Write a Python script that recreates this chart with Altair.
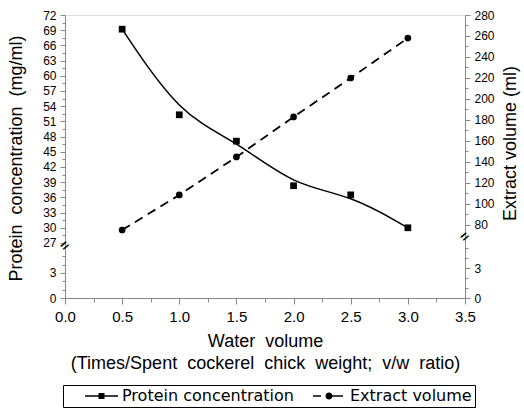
import altair as alt
import pandas as pd

# ---- data ----
water = [0.5, 1.0, 1.5, 2.0, 2.5, 3.0]
protein = [69.2, 52.3, 47.1, 38.3, 36.5, 30.0]   # mg/ml (left axis)
extract = [75.2, 108.6, 144.8, 182.9, 220.0, 258.0]  # ml (right axis)

series_names = ["Protein concentration", "Extract volume"]

x_ticks = [0.0, 0.25, 0.5, 0.75, 1.0, 1.25, 1.5, 1.75, 2.0, 2.25, 2.5, 2.75, 3.0, 3.25, 3.5]
left_ticks = [0, 1, 2, 3, 4, 5] + [27 + 1.5 * i for i in range(31)]
right_ticks = [0, 1, 2, 3, 4, 5] + [80 + 10 * i for i in range(21)]

FONT = "DejaVu Sans"
SP = "\u00a0 "

df = pd.DataFrame({"water": water, "protein": protein, "extract": extract})

# broken (piecewise) scales
left_scale = alt.Scale(domain=[0, 6.1, 26.6, 72], range=[283, 232, 230, 0], zero=False, nice=False)
right_scale = alt.Scale(domain=[0, 6, 69.5, 280], range=[283, 223, 221, 0], zero=False, nice=False)

x_axis = alt.Axis(
    values=x_ticks,
    labelExpr="datum.value % 0.5 === 0 ? format(datum.value, '.1f') : ''",
    tickSize={"condition": {"test": "datum.value % 0.5 === 0", "value": 6}, "value": 4},
    title=["Water" + SP + "volume",
           SP.join("(Times/Spent cockerel chick weight; v/w ratio)".split(" "))],
    titleFontSize=18, titleFontWeight="normal", titleBaseline="top", titleLineHeight=22,
    titleX=200, titleY=34, titleAlign="center",
    labelFontSize=15, labelPadding=5, labelOverlap=False, labelFlush=False,
    grid=False, orient="bottom",
)
x_enc = alt.X("water:Q", scale=alt.Scale(domain=[0, 3.5], zero=False, nice=False), axis=x_axis)

left_axis = alt.Axis(
    orient="left", values=left_ticks,
    labelExpr="datum.value % 3 === 0 ? datum.label : ''",
    tickSize={"condition": {"test": "datum.value % 3 === 0", "value": 5}, "value": 3},
    title="Protein" + SP + "concentration" + SP + "(mg/ml)", titleFontSize=18, titleFontWeight="normal",
    titleAngle=270, titleAlign="center", titleBaseline="middle", titleX=-49, titleY=143,
    labelFontSize=12, labelPadding=4, labelOverlap=False, labelFlush=False, grid=False,
)
right_axis = alt.Axis(
    orient="right", values=right_ticks,
    labelExpr="datum.value <= 6 ? (datum.value % 3 === 0 ? datum.label : '') : (datum.value % 20 === 0 ? datum.label : '')",
    tickSize={"condition": {"test": "(datum.value <= 6 && datum.value % 3 === 0) || (datum.value > 6 && datum.value % 20 === 0)", "value": 5}, "value": 3},
    title="Extract volume (ml)", titleFontSize=18, titleFontWeight="normal",
    titleAngle=270, titleAlign="center", titleBaseline="middle", titleX=45, titleY=128,
    labelFontSize=12, labelPadding=4, labelOverlap=False, labelFlush=False, grid=False,
)

base = alt.Chart(df)

p_line = base.mark_line(color="black", strokeWidth=1.5, interpolate="basis").encode(
    x=x_enc, y=alt.Y("protein:Q", scale=left_scale, axis=left_axis))
p_pts = base.mark_point(shape="square", filled=True, color="black", size=45, opacity=1).encode(
    x=x_enc, y=alt.Y("protein:Q", scale=left_scale, axis=left_axis))

# legend symbols: line + marker drawn as custom paths (units of 5 px)
sym_protein = "M2.2,-0.14H8.8V0.14H2.2Z M4.9,-0.6H6.1V0.6H4.9Z"
sym_extract = ("M2.2,-0.14H3.8V0.14H2.2Z M5.4,-0.14H8.2V0.14H5.4Z "
               "M4.7,0A0.7,0.7 0 1,1 6.1,0A0.7,0.7 0 1,1 4.7,0Z")

legend_layer = base.transform_filter("false").transform_calculate(
    series="'Protein concentration'"
).mark_point(filled=True, color="black", opacity=1).encode(
    x=x_enc, y=alt.Y("protein:Q", scale=left_scale, axis=left_axis),
    shape=alt.Shape("series:N",
                    scale=alt.Scale(domain=series_names, range=[sym_protein, sym_extract]),
                    legend=alt.Legend(
                        orient="none", legendX=-2, legendY=370, direction="horizontal",
                        title=None, strokeColor="black", padding=3,
                        symbolSize=100, symbolStrokeWidth=0, symbolFillColor="black",
                        symbolOpacity=1, labelFont=FONT, labelFontSize=16, labelColor="black",
                        labelOffset=40, columnPadding=-24, labelLimit=400)),
)

brk_left = alt.Chart(pd.DataFrame({"water": [0.0], "v": [16.35]})).mark_text(
    text="=", angle=320, fontSize=14, fontWeight="bold", color="black").encode(
    x=x_enc, y=alt.Y("v:Q", scale=left_scale, axis=left_axis))

e_line = base.mark_line(color="black", strokeWidth=1.8, strokeDash=[9, 6]).encode(
    x=x_enc, y=alt.Y("extract:Q", scale=right_scale, axis=right_axis))
e_pts = base.mark_point(shape="circle", filled=True, color="black", size=45, opacity=1).encode(
    x=x_enc, y=alt.Y("extract:Q", scale=right_scale, axis=right_axis))
brk_right = alt.Chart(pd.DataFrame({"water": [3.5], "v": [37.75]})).mark_text(
    text="=", angle=320, fontSize=14, fontWeight="bold", color="black").encode(
    x=x_enc, y=alt.Y("v:Q", scale=right_scale, axis=right_axis))

left_layer = alt.layer(p_line, p_pts, brk_left, legend_layer)
right_layer = alt.layer(e_line, e_pts, brk_right)

chart = alt.layer(left_layer, right_layer).resolve_scale(y="independent").properties(
    width=400, height=283,
    autosize=alt.AutoSizeParams(type="none"),
    padding={"left": 65, "top": 15, "right": 59, "bottom": 110},
).configure_view(stroke="transparent").configure_axis(
    domainColor="black", domainWidth=1.5, tickColor="black", tickWidth=1.5,
    labelColor="black", titleColor="black", labelFont=FONT, titleFont=FONT,
).configure(background="white")

chart.save("out.html", embed_options={"renderer": "svg", "actions": False})
